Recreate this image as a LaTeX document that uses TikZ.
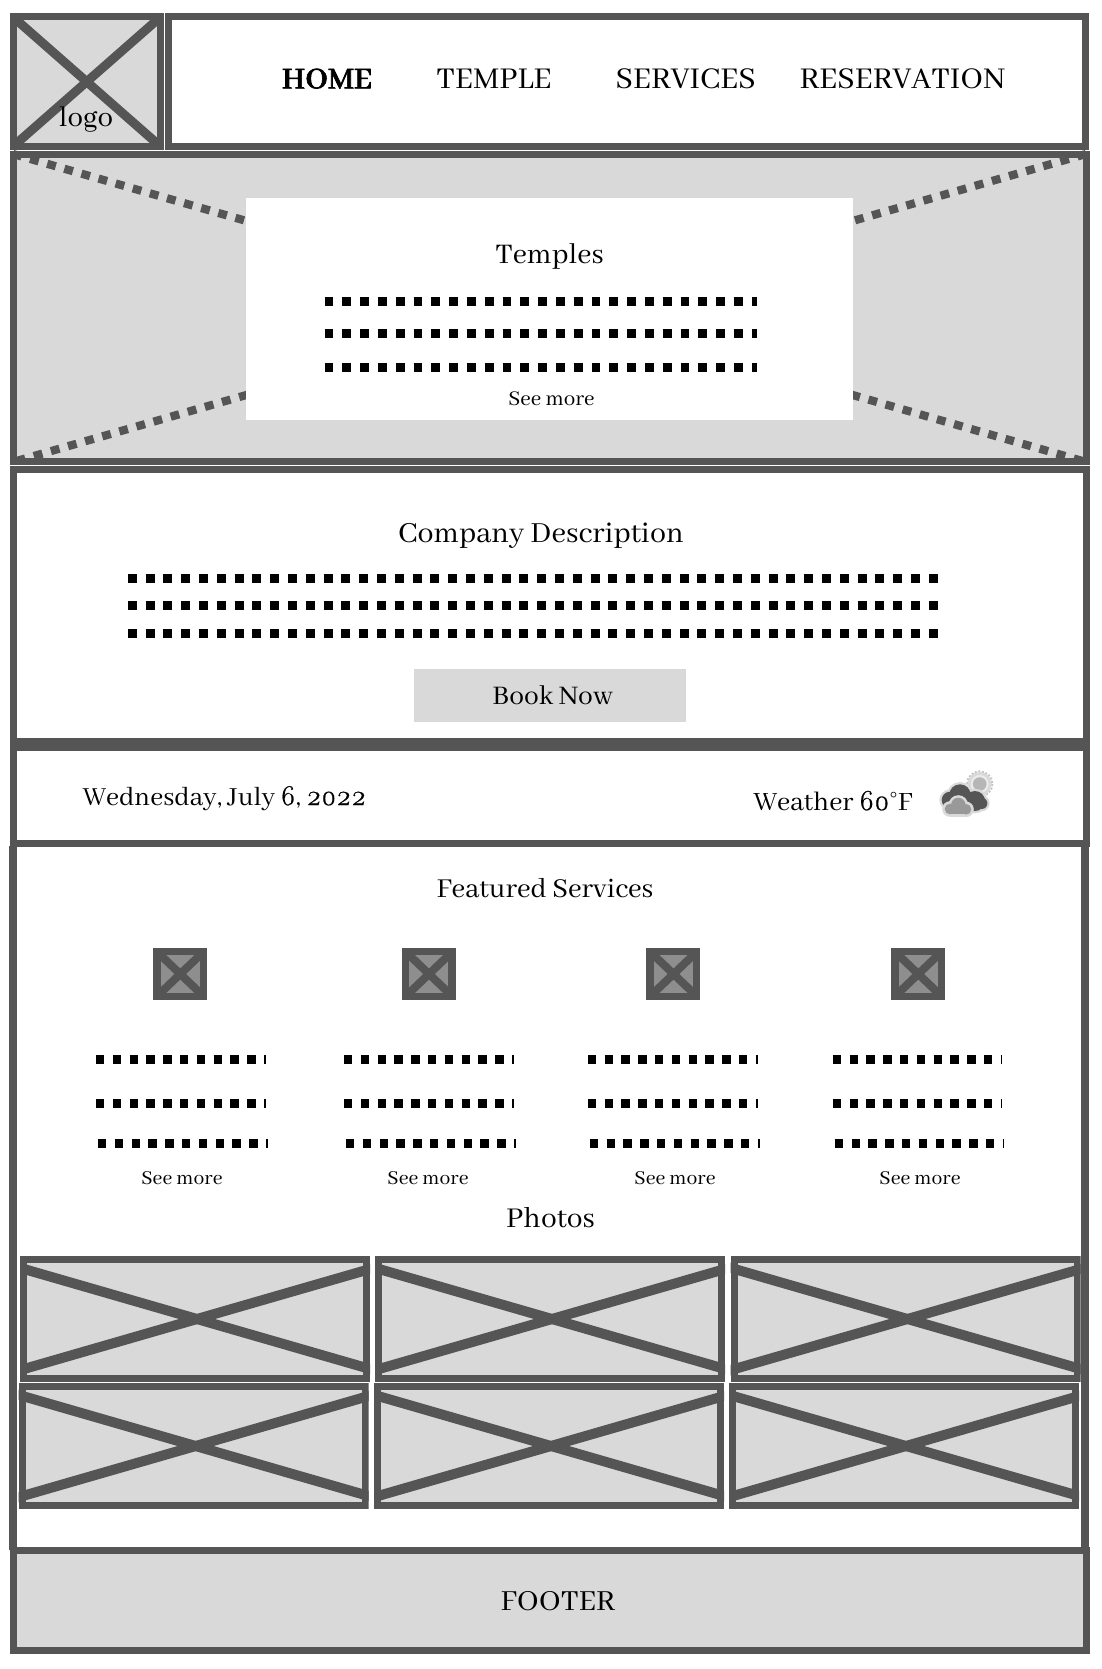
\documentclass[tikz,border=0pt]{standalone}
\usepackage{fontspec}
\setmainfont[BoldFeatures={FakeBold=2}]{Abhaya Libre}
\newfontfamily\oldnums[Numbers=OldStyle,FakeBold=0.6]{Latin Modern Roman}
\definecolor{edge}{HTML}{555555}
\definecolor{panel}{HTML}{D9D9D9}
\definecolor{icon}{HTML}{8E8E8E}
\tikzset{
  x=1pt,y=-1pt,
  frame/.style={draw=edge,line width=7pt,miter limit=10},
  filled/.style={frame,fill=panel},
  crossline/.style={draw=edge,line width=10pt},
  heroline/.style={draw=edge,line width=8.2pt,dash pattern=on 8.9pt off 8.9pt},
  sideline/.style={draw=edge,line width=8pt},
  textdots/.style={draw=black,line width=9pt,dash pattern=on 8.9pt off 8.9pt},
  smalldots/.style={draw=black,line width=9pt,dash pattern=on 8.4pt off 8.4pt},
  lbl/.style={inner sep=0pt,anchor=base,text=black},
  nav/.style={lbl,font=\fontsize{33.2}{33}\selectfont},
  head/.style={lbl,font=\fontsize{#1}{30}\selectfont},
  head/.default=30,
  small/.style={lbl,font=\fontsize{#1}{23}\selectfont},
  small/.default=21.6,
}
\newcommand{\photo}[2]{%
  \begin{scope}
    \clip (#1,#2) rectangle ++(350,126);
    \path[filled] (#1+3.5,#2+3.5) rectangle ++(343,119);
    \path[crossline] (#1-3,#2+11) -- (#1+357,#2+115);
    \path[crossline] (#1-3,#2+115) -- (#1+357,#2+11);
  \end{scope}}
\newcommand{\thumb}[1]{%
  \path[draw=edge,line width=7.5pt,fill=icon] (#1+3.7,951.7) rectangle (#1+50,996.3);
  \path[draw=edge,line width=8pt] (#1+5,953) -- (#1+49,995);
  \path[draw=edge,line width=8pt] (#1+5,995) -- (#1+49,953);}
\begin{document}
\begin{tikzpicture}
\useasboundingbox (0,0) rectangle (1101,1669);
\fill[white] (0,0) rectangle (1101,1669);
% services side rails
\path[sideline] (13.2,846) -- (13.2,1550);
\path[sideline] (1085.3,846) -- (1085.3,1550);
% top bar
\path[filled] (13,17) rectangle (160.5,146.5);
\begin{scope}
  \clip (13,17) rectangle (160.5,146.5);
  \path[draw=edge,line width=9pt] (13,17) -- (160.5,146.5);
  \path[draw=edge,line width=9pt] (13,146.5) -- (160.5,17);
\end{scope}
\path[frame] (168.7,17) rectangle (1085,146.5);
% hero
\path[filled] (13,154.2) rectangle (1086,461.6);
\path[heroline] (13,154) -- (1086,462);
\path[heroline] (1086,154) -- (13,462);
\fill[white] (246,197.7) rectangle (852.8,420);
\path[frame] (13,154.2) rectangle (1086,461.6);
\path[textdots] (324.5,302) -- (757,302);
\path[textdots] (324.5,333) -- (757,333);
\path[textdots] (324.5,367) -- (757,367);
% company
\path[frame] (13,469) rectangle (1086,741);
\path[textdots] (127.8,578) -- (940,578);
\path[textdots] (127.8,605.7) -- (940,605.7);
\path[textdots] (127.8,633.3) -- (940,633.3);
\fill[panel] (413.5,668.5) rectangle (686,721.7);
% date
\path[frame] (13,747.5) rectangle (1086,843.4);
% thumbs
\thumb{153.3}\thumb{402}\thumb{646.5}\thumb{891.3}
\foreach \xa/\xb in {96/265.5,344/514,587.8/758,832.7/1002}{
  \path[smalldots] (\xa,1059) -- (\xb,1059);
  \path[smalldots] (\xa,1103.7) -- (\xb,1103.7);
  \path[smalldots] (\xa+2,1143) -- (\xb+2,1143);
}
% photos
\photo{20}{1256}\photo{375}{1256}\photo{730.5}{1256}
\photo{18.6}{1383}\photo{374}{1383}\photo{729}{1383}
% footer
\path[filled] (13,1550) rectangle (1086,1650);
% weather icon: sun
\draw[panel!90!black,line width=2pt,dash pattern=on 2pt off 1.6pt] (979.7,784) circle (12.6);
\fill[panel] (979.7,784) circle (12);
\fill[white!92!black] (979.7,784) circle (9);
\fill[icon!65!white] (979.7,784) circle (6.8);
% weather icon: dark cloud
\foreach \cx/\cy/\r in {960/795/10.7,950/800/8.3,975/801/10,981.7/803.3/5.7}{
  \fill[panel] (\cx,\cy) circle ({\r+2.3});}
\fill[panel] (948,800) rectangle (983,811);
\foreach \cx/\cy/\r in {960/795/10.7,950/800/8.3,975/801/10,981.7/803.3/5.7}{
  \fill[edge] (\cx,\cy) circle (\r);}
\fill[edge] (950,800) rectangle (982,809);
% weather icon: light cloud
\foreach \cx/\cy/\r in {958.3/805/7.3,950/809/5.3,966/809.3/5.3}{
  \fill[panel] (\cx,\cy) circle ({\r+2.5});}
\fill[panel] (950,809) rectangle (966,816.8);
\foreach \cx/\cy/\r in {958.3/805/7.3,950/809/5.3,966/809.3/5.3}{
  \fill[icon!90!white] (\cx,\cy) circle (\r);}
\fill[icon!90!white] (950,809) rectangle (966,814.3);
% text
\node[nav,font=\bfseries\fontsize{33}{33}\selectfont] (home) at (327,88.3) {HOME};
\node[nav] (temple) at (494,88.3) {TEMPLE};
\node[nav] (services) at (685.7,88.3) {SERVICES};
\node[nav] (reservation) at (902.3,88.3) {RESERVATION};
\node[head=31] (logo) at (86,126.7) {logo};
\node[head=31.2] (temples) at (549.5,263.5) {Temples};
\node[small=23] (seeA) at (551.5,405.7) {See more};
\node[head=32] (company) at (541,542.5) {Company Description};
\node[head=29.5] (book) at (552.6,704) {Book Now};
\node[head=28.6] (date) at (224.5,805) {Wednesday, July {\oldnums 6}, {\oldnums 2022}};
\node[head=29] (weather) at (833,810) {Weather {\oldnums 60}°F};
\node[head=30] (featured) at (545,897.5) {Featured Services};
\node[small] (seeB) at (182,1184.6) {See more};
\node[small] (seeC) at (428,1184.6) {See more};
\node[small] (seeD) at (675,1184.6) {See more};
\node[small] (seeE) at (920,1184.6) {See more};
\node[head=31.5] (photos) at (550.5,1227.5) {Photos};
\node[head=32] (footer) at (558,1610.7) {FOOTER};
\end{tikzpicture}
\end{document}
